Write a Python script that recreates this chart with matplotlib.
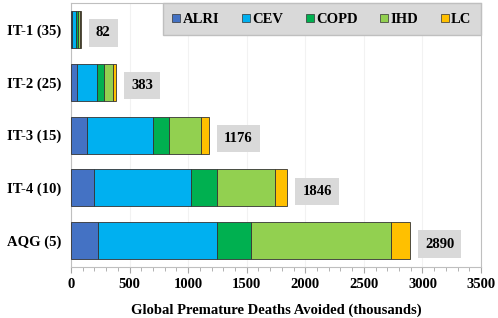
import numpy as np
import matplotlib

matplotlib.use('Agg')
import matplotlib.pyplot as plt
from matplotlib.lines import Line2D

plt.rcParams['font.family'] = ['Liberation Serif', 'DejaVu Serif']
plt.rcParams['font.weight'] = 'bold'

categories = ['IT-1 (35)', 'IT-2 (25)', 'IT-3 (15)', 'IT-4 (10)', 'AQG (5)']
causes = ['ALRI', 'CEV', 'COPD', 'IHD', 'LC']
colors = ['#4472C4', '#00B0F0', '#00B050', '#92D050', '#FFC000']

alri = [12, 51, 137, 196, 230]
cev = [30, 168, 566, 825, 1013]
copd = [14, 60, 134, 222, 294]
ihd = [18, 76, 270, 496, 1192]
lc = [8, 28, 69, 107, 161]
totals = [82, 383, 1176, 1846, 2890]

series = [alri, cev, copd, ihd, lc]
FS = 10.5

fig = plt.figure(figsize=(4.98, 3.18), dpi=100)
ax = fig.add_axes([0.1426, 0.16, 0.966 - 0.1426, 0.9906 - 0.16])

y = np.arange(len(categories))
left = np.zeros(len(categories))
for vals, col in zip(series, colors):
    ax.barh(y, vals, left=left, height=0.7, color=col, edgecolor='#333333', linewidth=0.6, zorder=3)
    left += np.array(vals)

for yi, tot in zip(y, totals):
    ax.annotate(str(tot), xy=(tot, yi), xytext=(11, -2.5), textcoords='offset points',
                ha='left', va='center', fontsize=FS, fontweight='bold',
                bbox=dict(boxstyle='square,pad=0.5', facecolor='#d9d9d9', edgecolor='none'))

ax.set_xlim(0, 3500)
ax.set_ylim(4.5, -0.5)
ax.set_yticks(y)
ax.set_yticklabels(categories, fontsize=FS, fontweight='bold')
ax.set_xticks(np.arange(0, 3501, 500))
ax.set_xticks(np.arange(0, 3501, 100), minor=True)
ax.tick_params(axis='x', which='both', direction='out', colors='#a6a6a6', labelcolor='black',
               labelsize=FS, pad=3.5)
ax.tick_params(axis='x', which='major', length=4)
ax.tick_params(axis='x', which='minor', length=3)
ax.tick_params(axis='y', length=0, pad=7)
ax.xaxis.grid(True, color='#f2f2f2', linewidth=0.8, zorder=0)
ax.set_axisbelow(True)
for s in ax.spines.values():
    s.set_color('#bfbfbf')
    s.set_linewidth(0.8)

ax.set_xlabel('Global Premature Deaths Avoided (thousands)', fontsize=FS, fontweight='bold', labelpad=9.5)

handles = [Line2D([], [], marker='s', linestyle='none', markersize=6, markerfacecolor=c,
                  markeredgecolor='#333333', markeredgewidth=0.5) for c in colors]
leg = ax.legend(handles, causes, loc='upper right', bbox_to_anchor=(1.0, 1.0), ncol=5,
                frameon=True, fancybox=False, handlelength=0.6, handletextpad=0.15,
                columnspacing=1.5, borderpad=0.65, borderaxespad=0.0,
                prop={'size': FS, 'weight': 'bold'})
leg.get_frame().set_facecolor('#d9d9d9')
leg.get_frame().set_edgecolor('#bfbfbf')
leg.get_frame().set_alpha(1)

fig.savefig('out.png', dpi=100)
